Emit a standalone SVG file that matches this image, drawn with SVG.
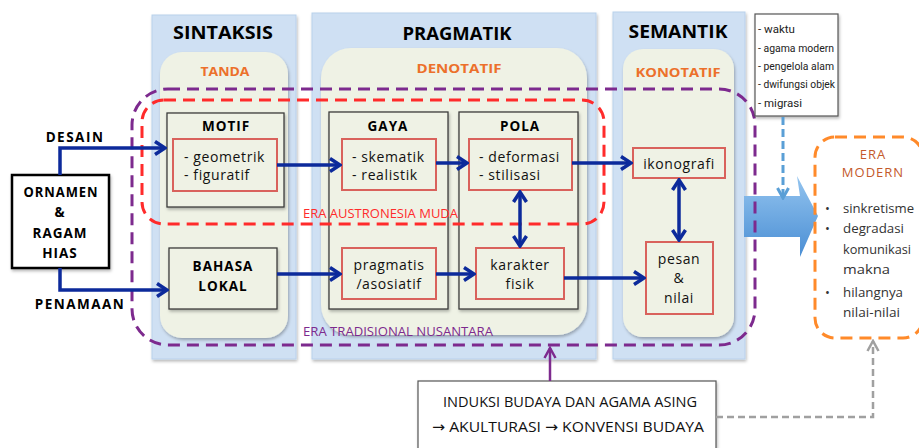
<svg xmlns="http://www.w3.org/2000/svg" width="919" height="448" viewBox="0 0 919 448">
<defs>
<style>
text{font-family:"Open Sans","DejaVu Sans",sans-serif;}
.col{fill:#cfe0f3;stroke:#b9d1ec;stroke-width:1;}
.cream{fill:#eff2e5;}
.h1{font-size:18px;font-weight:700;fill:#000;text-anchor:middle;}
.h2{font-size:13px;font-weight:700;fill:#ec702b;text-anchor:middle;}
.box{fill:#eff2e5;stroke:#3c3c3c;stroke-width:1.3;}
.ibox{fill:#eff2e5;stroke:#d9625c;stroke-width:2;}
.bt{font-size:13.5px;font-weight:700;fill:#000;text-anchor:middle;letter-spacing:1px;}
.t{font-size:14px;fill:#111;letter-spacing:0.6px;}
.tc{font-size:14px;fill:#111;letter-spacing:0.6px;text-anchor:middle;}
.arr{fill:none;stroke:#0c2a9b;stroke-width:3.5;}
.era{fill:none;stroke-width:3;stroke-dasharray:12 7;}
.lab{font-size:13.5px;font-weight:700;fill:#000;text-anchor:middle;letter-spacing:1.5px;}
.mod{font-size:13px;fill:#333;}
.call{font-family:Roboto,"Open Sans",sans-serif;font-size:11.5px;fill:#222;}
.ind{font-size:14.5px;fill:#111;}
</style>
<marker id="ah" markerUnits="userSpaceOnUse" viewBox="0 0 14 16" markerWidth="14" markerHeight="16" refX="12" refY="8" orient="auto-start-reverse">
<path d="M2,1.5 L12,8 L2,14.5" fill="none" stroke="#0c2a9b" stroke-width="3.5"/>
</marker>
<marker id="ahp" markerUnits="userSpaceOnUse" viewBox="0 0 14 14" markerWidth="14" markerHeight="14" refX="12" refY="7" orient="auto">
<path d="M2,1.5 L12,7 L2,12.5" fill="none" stroke="#7d2a8e" stroke-width="2.5"/>
</marker>
<marker id="ahg" markerUnits="userSpaceOnUse" viewBox="0 0 14 14" markerWidth="14" markerHeight="14" refX="12" refY="7" orient="auto">
<path d="M2,1.5 L12,7 L2,12.5" fill="none" stroke="#a0a0a0" stroke-width="2.5"/>
</marker>
<marker id="ahb" markerUnits="userSpaceOnUse" viewBox="0 0 14 14" markerWidth="14" markerHeight="14" refX="12" refY="7" orient="auto">
<path d="M2,1.5 L12,7 L2,12.5" fill="none" stroke="#5a9fd6" stroke-width="3"/>
</marker>
<filter id="sh" x="-10%" y="-10%" width="130%" height="130%">
<feDropShadow dx="1" dy="2" stdDeviation="1.5" flood-color="#000" flood-opacity="0.28"/>
</filter>
<linearGradient id="bg" x1="0" y1="0" x2="0" y2="1">
<stop offset="0" stop-color="#93c4ef"/>
<stop offset="1" stop-color="#4a8ed4"/>
</linearGradient>
</defs>

<g id="columns">
<rect class="col" x="152" y="15" width="144" height="344" filter="url(#sh)"/>
<rect class="col" x="312" y="13" width="284" height="346" filter="url(#sh)"/>
<rect class="col" x="613" y="12" width="132" height="347" filter="url(#sh)"/>
<rect class="cream" x="160" y="52" width="128" height="286" rx="22" filter="url(#sh)"/>
<rect class="cream" x="321" y="48" width="266" height="287" rx="30" filter="url(#sh)"/>
<rect class="cream" x="623" y="49" width="111" height="288" rx="20" filter="url(#sh)"/>
<text class="h1" x="223" y="39" textLength="100" lengthAdjust="spacingAndGlyphs">SINTAKSIS</text>
<text class="h1" x="457" y="40" textLength="109" lengthAdjust="spacingAndGlyphs">PRAGMATIK</text>
<text class="h1" x="678" y="38" textLength="99" lengthAdjust="spacingAndGlyphs">SEMANTIK</text>
<text class="h2" x="225" y="76" textLength="49" lengthAdjust="spacingAndGlyphs">TANDA</text>
<text class="h2" x="459" y="73" textLength="85" lengthAdjust="spacingAndGlyphs">DENOTATIF</text>
<text class="h2" x="678" y="77" textLength="85" lengthAdjust="spacingAndGlyphs">KONOTATIF</text>
</g>

<g id="big-arrow">
<polygon points="744,196 800,196 797,176 818,216 800,257 800,237 744,237" fill="url(#bg)"/>
</g>

<g id="ornamen">
<rect x="12" y="175" width="97" height="93" fill="#fff" stroke="#000" stroke-width="2.5" filter="url(#sh)"/>
<text class="bt" x="61" y="197" textLength="75" lengthAdjust="spacingAndGlyphs">ORNAMEN</text>
<text class="bt" x="60" y="217">&amp;</text>
<text class="bt" x="60" y="238">RAGAM</text>
<text class="bt" x="60" y="258">HIAS</text>
</g>

<g id="motif">
<rect class="box" x="167" y="113" width="117" height="94" filter="url(#sh)"/>
<text class="bt" x="226" y="131">MOTIF</text>
<rect class="ibox" x="173" y="139" width="104" height="52"/>
<text class="t" x="184" y="162">- geometrik</text>
<text class="t" x="184" y="180">- figuratif</text>
</g>

<g id="gaya">
<rect class="box" x="329" y="112" width="119" height="197" filter="url(#sh)"/>
<text class="bt" x="388" y="131">GAYA</text>
<rect class="ibox" x="342" y="139" width="94" height="51"/>
<text class="t" x="352" y="162">- skematik</text>
<text class="t" x="352" y="180">- realistik</text>
</g>

<g id="pola">
<rect class="box" x="459" y="112" width="119" height="197" filter="url(#sh)"/>
<text class="bt" x="520" y="131">POLA</text>
<rect class="ibox" x="469" y="139" width="103" height="51"/>
<text class="t" x="479" y="162">- deformasi</text>
<text class="t" x="479" y="180">- stilisasi</text>
</g>

<g id="bahasa">
<rect class="box" x="169" y="248" width="108" height="61" filter="url(#sh)"/>
<text class="bt" x="223" y="271">BAHASA</text>
<text class="bt" x="223" y="291">LOKAL</text>
</g>

<g id="pragmatis">
<rect class="ibox" x="342" y="248" width="94" height="51"/>
<text class="tc" x="389" y="270">pragmatis</text>
<text class="tc" x="389" y="289">/asosiatif</text>
</g>

<g id="karakter">
<rect class="ibox" x="476" y="248" width="88" height="51"/>
<text class="tc" x="520" y="270">karakter</text>
<text class="tc" x="520" y="289">fisik</text>
</g>

<g id="ikonografi">
<rect class="ibox" x="633" y="148" width="92" height="30"/>
<text class="tc" x="679" y="169">ikonografi</text>
</g>

<g id="pesan">
<rect class="ibox" x="646" y="242" width="67" height="72"/>
<text class="tc" x="679" y="264">pesan</text>
<text class="tc" x="679" y="283">&amp;</text>
<text class="tc" x="679" y="303">nilai</text>
</g>

<g id="eras">
<rect class="era" x="132" y="89" width="623" height="256" rx="36" stroke="#7d2a8e"/>
<rect class="era" x="142" y="100" width="462" height="124" rx="22" stroke="#ff2b2b"/>
<text x="303" y="218" font-size="12.5" fill="#ff2b2b" textLength="155" lengthAdjust="spacingAndGlyphs">ERA AUSTRONESIA MUDA</text>
<text x="303" y="336" font-size="12.5" fill="#7d2a8e" textLength="190" lengthAdjust="spacingAndGlyphs">ERA TRADISIONAL NUSANTARA</text>
</g>

<g id="callout">
<rect x="755" y="14" width="83" height="102" fill="#fff" stroke="#555" stroke-width="1.2" filter="url(#sh)"/>
<text class="call" x="758" y="33">- waktu</text>
<text class="call" x="758" y="52" textLength="76" lengthAdjust="spacingAndGlyphs">- agama modern</text>
<text class="call" x="758" y="70" textLength="76" lengthAdjust="spacingAndGlyphs">- pengelola alam</text>
<text class="call" x="758" y="88" textLength="77" lengthAdjust="spacingAndGlyphs">- dwifungsi objek</text>
<text class="call" x="758" y="107">- migrasi</text>
</g>

<g id="era-modern">
<rect class="era" x="815" y="137" width="108" height="201" rx="20" stroke="#ff8a2a"/>
<text x="873" y="159" font-size="13" fill="#c4592b" text-anchor="middle" letter-spacing="1">ERA</text>
<text x="873" y="177" font-size="13" fill="#c4592b" text-anchor="middle" letter-spacing="1">MODERN</text>
<text class="mod" x="825" y="213">•</text>
<text class="mod" x="843" y="213" textLength="71" lengthAdjust="spacingAndGlyphs">sinkretisme</text>
<text class="mod" x="825" y="233">•</text>
<text class="mod" x="843" y="233" textLength="61" lengthAdjust="spacingAndGlyphs">degradasi</text>
<text class="mod" x="843" y="254" textLength="68" lengthAdjust="spacingAndGlyphs">komunikasi</text>
<text class="mod" x="843" y="274" textLength="47" lengthAdjust="spacingAndGlyphs">makna</text>
<text class="mod" x="825" y="297">•</text>
<text class="mod" x="843" y="297" textLength="60" lengthAdjust="spacingAndGlyphs">hilangnya</text>
<text class="mod" x="843" y="317" textLength="57" lengthAdjust="spacingAndGlyphs">nilai-nilai</text>
</g>

<g id="induksi">
<rect x="418" y="381" width="298" height="80" fill="#fff" stroke="#555" stroke-width="1.2" filter="url(#sh)"/>
<text class="ind" x="443" y="407" textLength="254" lengthAdjust="spacingAndGlyphs">INDUKSI BUDAYA DAN AGAMA ASING</text>
<text class="ind" x="432" y="432" textLength="272" lengthAdjust="spacingAndGlyphs">→ AKULTURASI → KONVENSI BUDAYA</text>
</g>

<g id="labels">
<text class="lab" x="75" y="142">DESAIN</text>
<text class="lab" x="80" y="309">PENAMAAN</text>
</g>

<g id="connectors">
<path class="arr" d="M60,175 V148 H165" marker-end="url(#ah)"/>
<path class="arr" d="M60,268 V290 H167" marker-end="url(#ah)"/>
<path class="arr" d="M277,165 H340" marker-end="url(#ah)"/>
<path class="arr" d="M436,163 H467" marker-end="url(#ah)"/>
<path class="arr" d="M572,163 H631" marker-end="url(#ah)"/>
<path class="arr" d="M277,274 H340" marker-end="url(#ah)"/>
<path class="arr" d="M436,274 H474" marker-end="url(#ah)"/>
<path class="arr" d="M564,278 H644" marker-end="url(#ah)"/>
<path class="arr" d="M520,192 V246" marker-start="url(#ah)" marker-end="url(#ah)"/>
<path class="arr" d="M679,180 V240" marker-start="url(#ah)" marker-end="url(#ah)"/>
<path d="M550,381 V348" fill="none" stroke="#7d2a8e" stroke-width="2.5" marker-end="url(#ahp)"/>
<path d="M716,417 H873 V341" fill="none" stroke="#a0a0a0" stroke-width="2.5" stroke-dasharray="7 4" marker-end="url(#ahg)"/>
<path d="M783,117 V198" fill="none" stroke="#5a9fd6" stroke-width="3" stroke-dasharray="8 4" marker-end="url(#ahb)"/>
</g>
</svg>
